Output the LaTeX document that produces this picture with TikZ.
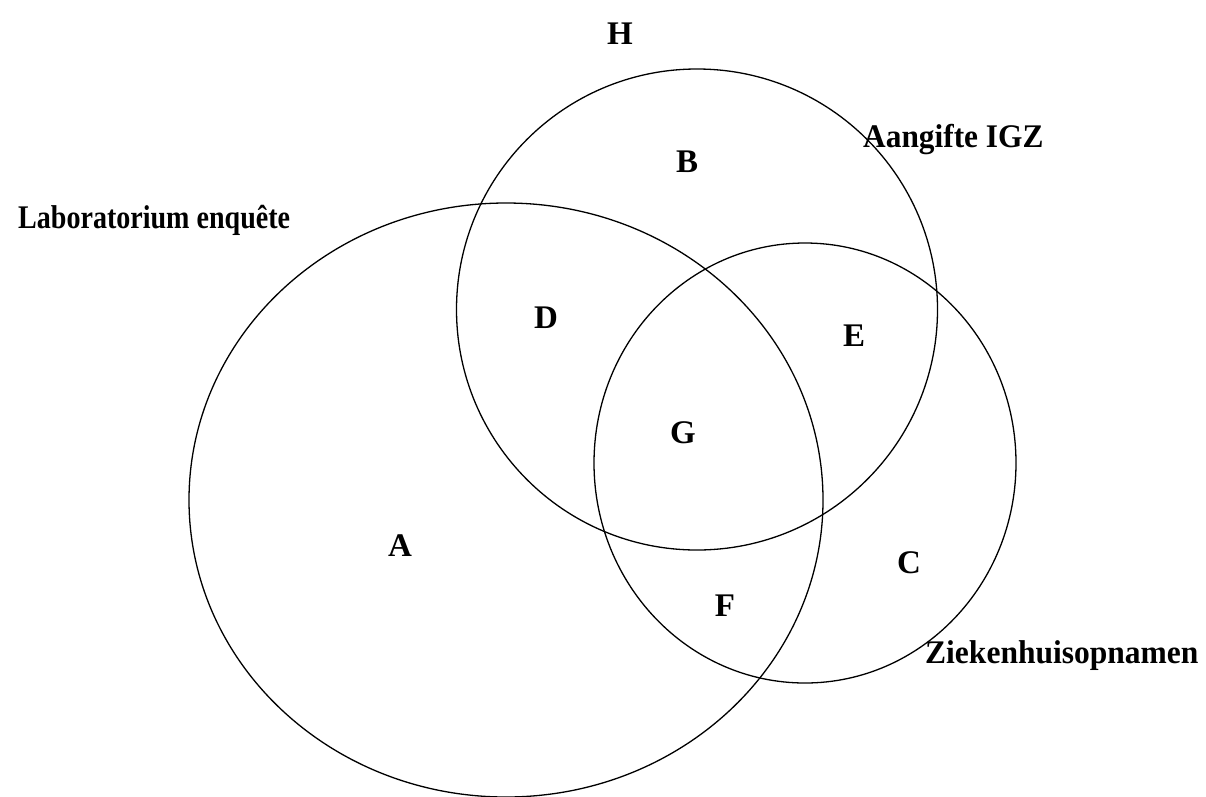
\documentclass[tikz,border=0pt]{standalone}
\usepackage{fontspec}
\setmainfont{Liberation Serif}
\begin{document}
\begin{tikzpicture}[x=1pt,y=-1pt,
  setline/.style={line width=1.3pt, black},
  lbl/.style={font=\fontsize{33}{36}\selectfont\bfseries, inner sep=0pt, anchor=base},
  title/.style={font=\fontsize{33}{36}\selectfont\bfseries, inner sep=0pt, anchor=base west}]
\useasboundingbox (0,0) rectangle (1206,796);
% sets
\draw[setline] (506,500) ellipse [x radius=317pt, y radius=297pt];
\draw[setline] (697,309.5) ellipse [x radius=240.5pt, y radius=240.5pt];
\draw[setline] (805,463) ellipse [x radius=211pt, y radius=220pt];
% set names
\node[title] (lab) at (18,228) {\scalebox{0.85}[1]{Laboratorium enquête}};
\node[title] (igz) at (863,147) {\scalebox{0.95}[1]{Aangifte IGZ}};
\node[title] (zkh) at (925,663) {\scalebox{0.955}[1]{Ziekenhuisopnamen}};
% regions
\node[lbl] (H) at (620,44) {H};
\node[lbl] (B) at (687,172) {B};
\node[lbl] (D) at (546,328) {D};
\node[lbl] (E) at (854,346) {E};
\node[lbl] (G) at (683,443) {G};
\node[lbl] (A) at (400,556) {A};
\node[lbl] (C) at (909,573) {C};
\node[lbl] (F) at (725,616) {F};
\end{tikzpicture}
\end{document}
